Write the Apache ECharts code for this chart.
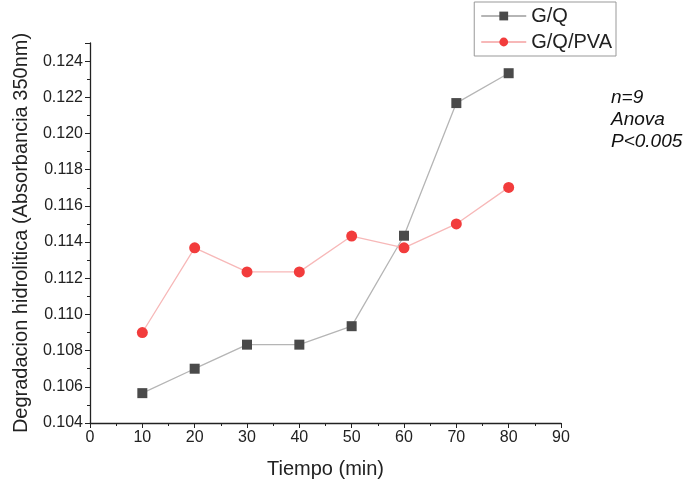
<!DOCTYPE html>
<html><head><meta charset="utf-8">
<script src="https://cdn.jsdelivr.net/npm/echarts@6/dist/echarts.min.js"></script>
<style>html,body{margin:0;padding:0;background:#fff}#c{width:689px;height:484px}</style>
</head><body><div id="c"></div>
<script>
const times = [10, 20, 30, 40, 50, 60, 70, 80];
const gq = [0.10565, 0.10700, 0.10833, 0.10833, 0.10935, 0.11435, 0.12168, 0.12333];
const gqpva = [0.10900, 0.11368, 0.11235, 0.11235, 0.11433, 0.11368, 0.11500, 0.11702];
const seriesNames = ['G/Q', 'G/Q/PVA'];
const notes = ['n=9', 'Anova', 'P<0.005'];

const font = 'Liberation Sans, Arial, sans-serif';
const chart = echarts.init(document.getElementById('c'));
chart.setOption({
  animation: false,
  grid: {left: 90, right: 128, top: 43, bottom: 61},
  legend: {
    right: 73, top: 2, orient: 'vertical',
    borderColor: '#999', borderWidth: 1, padding: [4, 4, 4, 6],
    itemGap: 6, itemWidth: 45, itemHeight: 11,
    textStyle: {fontFamily: font, fontSize: 20, color: '#222'},
    data: seriesNames
  },
  xAxis: {
    type: 'value', min: 0, max: 90, interval: 10,
    name: 'Tiempo (min)', nameLocation: 'middle', nameGap: 36,
    nameTextStyle: {fontFamily: font, fontSize: 20, color: '#222'},
    axisLine: {show: true, lineStyle: {color: '#222', width: 1.3}},
    axisTick: {show: true, length: 5, lineStyle: {color: '#222'}},
    minorTick: {show: true, splitNumber: 2, length: 3, lineStyle: {color: '#222'}},
    axisLabel: {fontFamily: font, fontSize: 16, color: '#222', margin: 7},
    splitLine: {show: false}
  },
  yAxis: {
    type: 'value', min: 0.104, max: 0.125, interval: 0.002,
    name: 'Degradacion hidrolitica (Absorbancia 350nm)', nameLocation: 'middle', nameGap: 59,
    nameTextStyle: {fontFamily: font, fontSize: 20, color: '#222'},
    axisLine: {show: true, lineStyle: {color: '#222', width: 1.3}},
    axisTick: {show: true, length: 5, lineStyle: {color: '#222'}},
    minorTick: {show: true, splitNumber: 2, length: 3, lineStyle: {color: '#222'}},
    axisLabel: {fontFamily: font, fontSize: 16, color: '#222', margin: 7, showMaxLabel: false,
      formatter: v => v.toFixed(3)},
    splitLine: {show: false}
  },
  series: [
    {
      name: seriesNames[0], type: 'line', symbol: 'rect', symbolSize: 10,
      data: times.map((t, i) => [t, gq[i]]),
      lineStyle: {color: '#b5b5b5', width: 1.3},
      itemStyle: {color: '#4a4a4a'}
    },
    {
      name: seriesNames[1], type: 'line', symbol: 'circle', symbolSize: 11,
      data: times.map((t, i) => [t, gqpva[i]]),
      lineStyle: {color: '#f7b8b8', width: 1.3},
      itemStyle: {color: '#f23c3c'}
    }
  ],
  graphic: [{
    type: 'text', left: 611, top: 87,
    style: {text: notes.join('\n'), fontFamily: font, fontSize: 19, fontStyle: 'italic',
      lineHeight: 22, fill: '#111'}
  }]
});
</script></body></html>
